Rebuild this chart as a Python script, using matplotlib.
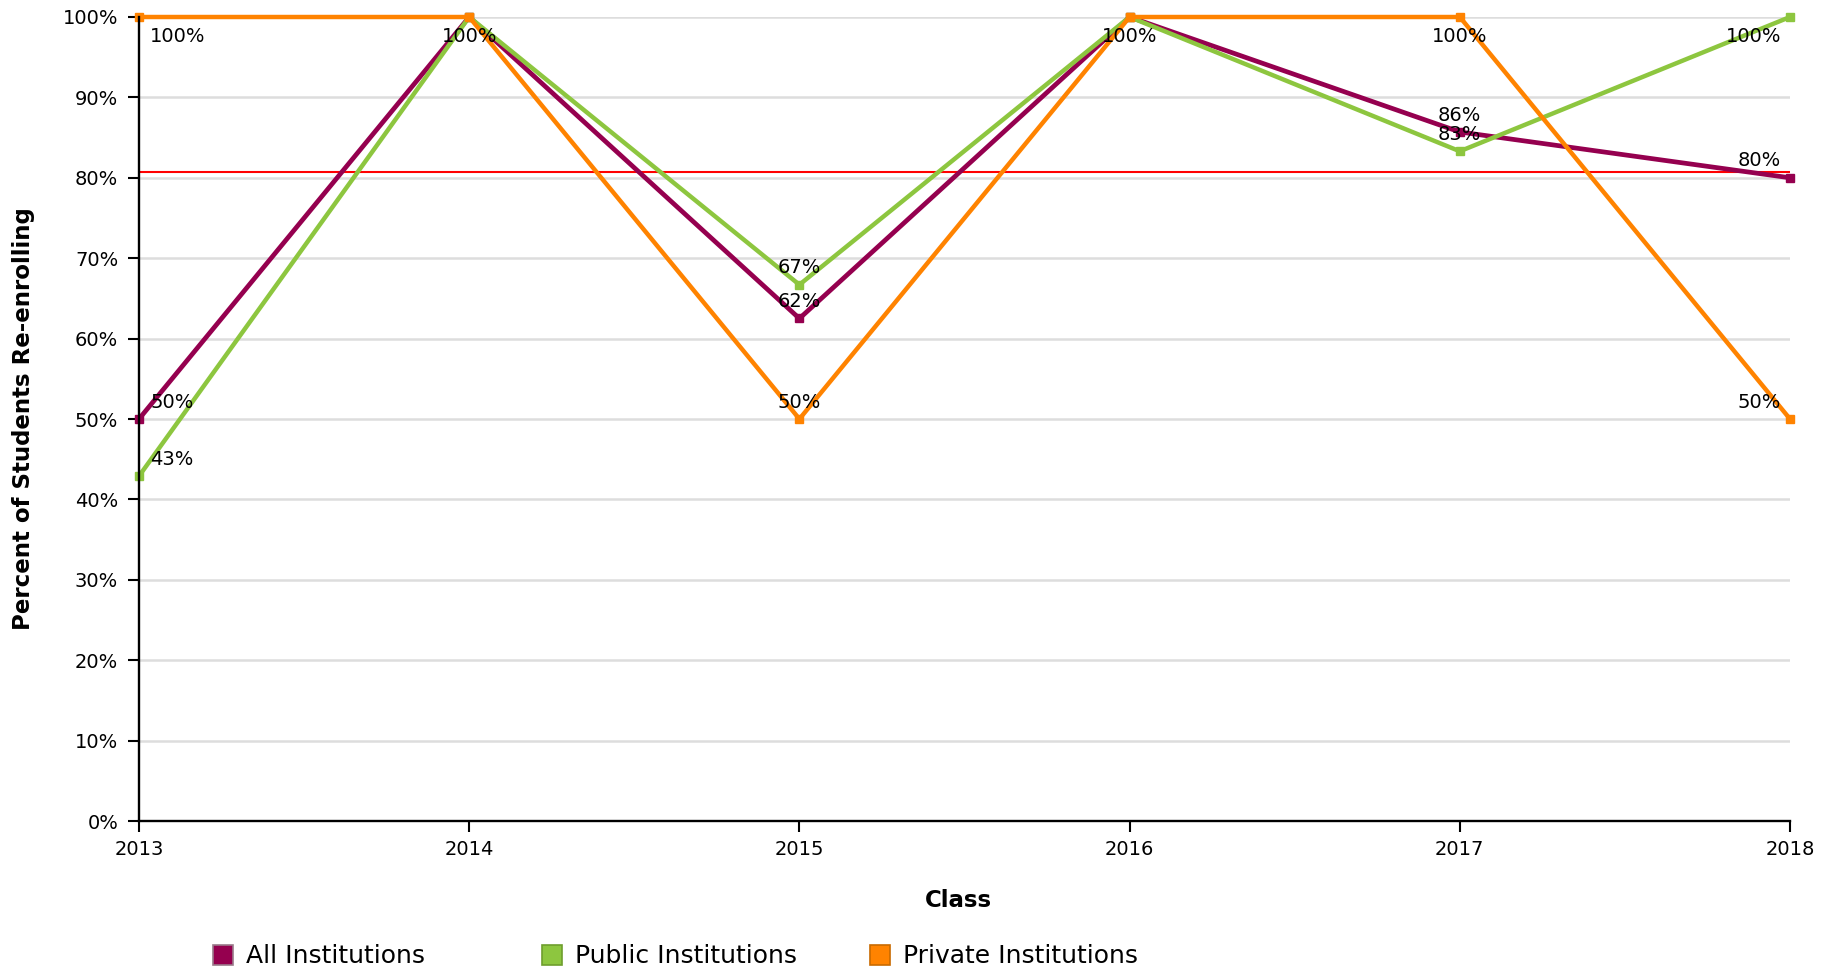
import matplotlib
matplotlib.use("Agg")
import matplotlib.pyplot as plt
from matplotlib.patches import Rectangle

# ---- data ----
years = [2013, 2014, 2015, 2016, 2017, 2018]
series_names = ["All Institutions", "Public Institutions", "Private Institutions"]
all_inst = [50.0, 100.0, 62.5, 100.0, 85.7, 80.0]
public_inst = [42.9, 100.0, 66.7, 100.0, 83.3, 100.0]
private_inst = [100.0, 100.0, 50.0, 100.0, 100.0, 50.0]
reference_line = 80.7
y_ticks = [0, 10, 20, 30, 40, 50, 60, 70, 80, 90, 100]
x_title = "Class"
y_title = "Percent of Students Re-enrolling"

colors = ["#95004F", "#8DC63F", "#FF8300"]
edge_colors = ["#9a7a8a", "#6E9E2E", "#C86A00"]
widths = [3.4, 3.2, 3.2]

W, H = 1837, 972
fig = plt.figure(figsize=(W / 100, H / 100), dpi=100)
plt.rcParams['font.family'] = ['DejaVu Sans']

left, right, top, bottom = 139, 1790, 17, 821
ax = fig.add_axes([left / W, 1 - bottom / H, (right - left) / W, (bottom - top) / H])

ax.set_xlim(years[0], years[-1])
ax.set_ylim(0, 100)

for yv in y_ticks:
    ax.axhline(yv, color="#dddddd", lw=1.8, zorder=1)

ax.axhline(reference_line, color="#FF0000", lw=1.5, zorder=2)

data = [all_inst, public_inst, private_inst]
for vals, c, lw in zip(data, colors, widths):
    ax.plot(years, vals, color=c, lw=lw, marker="s", ms=6, mec=c, mfc=c,
            zorder=3, clip_on=False, solid_joinstyle="miter")

# data labels (one per distinct position)
seen = set()
for vals in data:
    for i, (x, v) in enumerate(zip(years, vals)):
        key = (x, round(v))
        if key in seen:
            continue
        seen.add(key)
        if i == 0:
            dx, ha = 8, "left"
        elif i == len(years) - 1:
            dx, ha = -6.5, "right"
        else:
            dx, ha = 0, "center"
        dy = -14.4 if v >= 99.5 else 12.2
        ax.annotate(f"{v:.0f}%", (x, v), xytext=(dx, dy), textcoords="offset points",
                    ha=ha, va="center", fontsize=14, color="black", zorder=5)

for s in ["top", "right"]:
    ax.spines[s].set_visible(False)
for s in ["left", "bottom"]:
    ax.spines[s].set_linewidth(1.7)
    ax.spines[s].set_color("black")
    ax.spines[s].set_zorder(4)

ax.set_xticks(years)
ax.set_xticklabels([str(y) for y in years], fontsize=14)
ax.set_yticks(y_ticks)
ax.set_yticklabels([f"{t}%" for t in y_ticks], fontsize=14)
ax.tick_params(axis="both", length=8, width=1.5, color="black")
ax.tick_params(axis="x", pad=6)
ax.tick_params(axis="y", pad=7)

fig.text(958 / W, 1 - 900 / H, x_title, ha="center", va="center",
         fontsize=16.5, fontweight="bold")
fig.text(24 / W, 1 - 419 / H, y_title, ha="center", va="center", rotation=90,
         fontsize=16.5, fontweight="bold")

# legend
sq_x = [213, 542, 870]
for name, c, ec, sx in zip(series_names, colors, edge_colors, sq_x):
    fig.patches.append(Rectangle((sx / W, 1 - 965 / H), 20 / W, 20 / H,
                                 transform=fig.transFigure, facecolor=c,
                                 edgecolor=ec, lw=1.2))
    fig.text((sx + 33) / W, 1 - 956 / H, name, ha="left", va="center", fontsize=18)

fig.savefig("out.png", dpi=100)
